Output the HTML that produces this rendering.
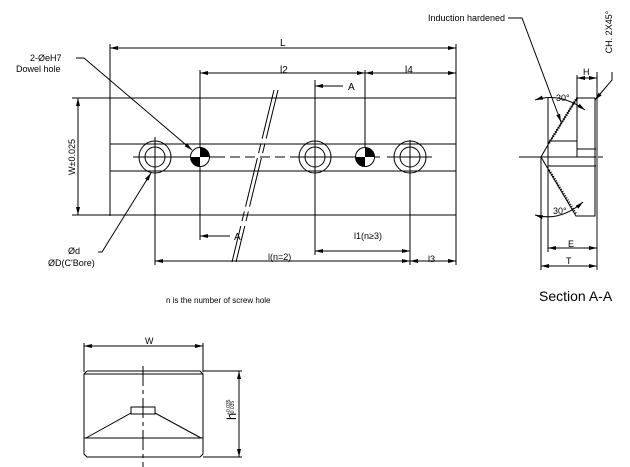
<!DOCTYPE html>
<html><head><style>
html,body{margin:0;padding:0;background:#fff;}
svg{display:block;}
text{font-family:"Liberation Sans",sans-serif;fill:#000;}
</style></head><body>
<svg width="630" height="467" viewBox="0 0 630 467" xmlns="http://www.w3.org/2000/svg">
<defs>
<marker id="a" markerWidth="8" markerHeight="6" refX="8" refY="3" orient="auto-start-reverse" markerUnits="userSpaceOnUse"><path d="M0,1 L8,3 L0,5z" fill="#000"/></marker>
</defs>
<g stroke="#000" stroke-width="1" fill="none">
<line x1="72" y1="98" x2="456" y2="98"/>
<line x1="72" y1="215" x2="456" y2="215"/>
<line x1="110" y1="144" x2="456" y2="144"/>
<line x1="110" y1="171" x2="456" y2="171"/>
<line x1="110" y1="44" x2="110" y2="216"/>
<line x1="456" y1="44" x2="456" y2="265"/>
<line x1="110" y1="48" x2="456" y2="48" marker-start="url(#a)" marker-end="url(#a)"/>
<line x1="200" y1="73" x2="365" y2="73" marker-start="url(#a)" marker-end="url(#a)"/>
<line x1="365" y1="73" x2="456" y2="73" marker-start="url(#a)" marker-end="url(#a)"/>
<line x1="200" y1="70" x2="200" y2="240"/>
<line x1="365" y1="70" x2="365" y2="160"/>
<line x1="315" y1="80" x2="315" y2="255"/>
<line x1="343" y1="86" x2="315" y2="86" marker-end="url(#a)"/>
<line x1="230" y1="236" x2="200" y2="236" marker-end="url(#a)"/>
<line x1="78" y1="98" x2="78" y2="215" marker-start="url(#a)" marker-end="url(#a)"/>
<line x1="155" y1="140" x2="155" y2="265"/>
<line x1="410" y1="140" x2="410" y2="265"/>
<line x1="315" y1="251" x2="410" y2="251" marker-start="url(#a)" marker-end="url(#a)"/>
<line x1="155" y1="261" x2="410" y2="261" marker-start="url(#a)" marker-end="url(#a)"/>
<line x1="410" y1="261" x2="456" y2="261" marker-start="url(#a)" marker-end="url(#a)"/>
<line x1="133" y1="157" x2="215" y2="157"/>
<line x1="215" y1="157" x2="300" y2="157" stroke-dasharray="10,5"/>
<line x1="298" y1="157" x2="380" y2="157"/>
<line x1="387" y1="157" x2="432" y2="157"/>
<circle cx="155" cy="157" r="16"/><circle cx="155" cy="157" r="10"/>
<line x1="155" y1="137" x2="155" y2="177"/>
<circle cx="315" cy="157" r="16"/><circle cx="315" cy="157" r="10"/>
<circle cx="410" cy="157" r="16"/><circle cx="410" cy="157" r="10"/>
<circle cx="200" cy="157" r="9.5" fill="#fff"/>
<circle cx="365" cy="157" r="9.5" fill="#fff"/>
</g>
<path d="M200,157 L200,147.5 A9.5,9.5 0 0 1 209.5,157z M200,157 L200,166.5 A9.5,9.5 0 0 1 190.5,157z" fill="#000"/>
<path d="M365,157 L365,147.5 A9.5,9.5 0 0 1 374.5,157z M365,157 L365,166.5 A9.5,9.5 0 0 1 355.5,157z" fill="#000"/>
<g stroke="#000" stroke-width="1" fill="none">
<line x1="274" y1="90" x2="232" y2="262" stroke-dasharray="50,5,10,5"/>
<line x1="278" y1="90" x2="236" y2="262" stroke-dasharray="50,5,10,5"/>
<polyline points="76,58 84,58 192,150" marker-end="url(#a)"/>
<polyline points="98,252 102,252 151,173" marker-end="url(#a)"/>
</g>
<g font-size="9">
<text x="280" y="46" font-size="10">L</text>
<text x="280" y="73" font-size="10">l2</text>
<text x="405" y="73" font-size="10">l4</text>
<text x="348" y="90" font-size="10">A</text>
<text x="234" y="240" font-size="10">A</text>
<text x="354" y="239">l1(n≥3)</text>
<text x="268" y="260">l(n=2)</text>
<text x="428" y="262">l3</text>
<text x="30" y="61">2-ØeH7</text>
<text x="16" y="72">Dowel hole</text>
<text x="68" y="254">Ød</text>
<text x="48" y="266">ØD(C'Bore)</text>
<text x="75" y="157" transform="rotate(-90 75 157)" text-anchor="middle">W±0.025</text>
<text x="166" y="303" font-size="8">n is the number of screw hole</text>
<text x="428" y="21">Induction hardened</text>
<text x="612" y="32" transform="rotate(-90 612 32)" text-anchor="middle">CH. 2X45°</text>
<text x="583" y="75">H</text>
<text x="568" y="247">E</text>
<text x="566" y="264">T</text>
<text x="556" y="101">30°</text>
<text x="553" y="214">30°</text>
<text x="539" y="301" font-size="14">Section A-A</text>
<text x="145" y="344">W</text>
<text x="236" y="420" font-size="13" transform="rotate(-90 236 420)">h</text>
<text x="230" y="415" font-size="5" transform="rotate(-90 230 415)">+0.035</text>
<text x="234" y="415" font-size="5" transform="rotate(-90 234 415)">-0.035</text>
</g>
<g stroke="#000" stroke-width="1" fill="none">
<line x1="519" y1="157" x2="603" y2="157"/>
<polyline points="541,157 549,143 577,98 595,98 595,216 576,216 541,157"/>
<line x1="549" y1="141" x2="577" y2="141"/>
<line x1="577" y1="98" x2="577" y2="157"/>
<line x1="577" y1="149" x2="597" y2="149"/>
<line x1="548" y1="166" x2="597" y2="166"/>
<line x1="541" y1="157" x2="541" y2="270"/>
<line x1="548" y1="98" x2="548" y2="252"/>
<line x1="597" y1="98" x2="597" y2="270" stroke="#888" stroke-width="2"/>
<line x1="577" y1="75" x2="577" y2="98"/>
<line x1="597" y1="72" x2="597" y2="98"/>
<line x1="577" y1="78" x2="597" y2="78" marker-start="url(#a)" marker-end="url(#a)"/>
<line x1="548" y1="248" x2="597" y2="248" marker-start="url(#a)" marker-end="url(#a)"/>
<line x1="541" y1="266" x2="597" y2="266" marker-start="url(#a)" marker-end="url(#a)"/>
<path d="M535,100 Q560,92 585,110" marker-start="url(#a)" marker-end="url(#a)"/>
<path d="M535,215 Q560,222 583,202" marker-start="url(#a)" marker-end="url(#a)"/>
<line x1="549" y1="143" x2="577" y2="98" stroke-width="2.5" stroke-dasharray="1,1.5"/>
<line x1="549" y1="170" x2="576" y2="214" stroke-width="2.5" stroke-dasharray="1,1.5"/>
<polyline points="508,18 522,18 561,122" marker-end="url(#a)"/>
<polyline points="612,72 612,80 595,100" marker-end="url(#a)"/>
<line x1="84" y1="346" x2="203" y2="346" marker-start="url(#a)" marker-end="url(#a)"/>
<line x1="84" y1="343" x2="84" y2="372"/>
<line x1="203" y1="343" x2="203" y2="372"/>
<polyline points="87,371 200,371 203,374 203,454 200,457 87,457 84,454 84,374 87,371"/>
<line x1="84" y1="374" x2="203" y2="374"/>
<line x1="84" y1="438" x2="203" y2="438"/>
<rect x="131" y="407" width="24" height="7"/>
<line x1="131" y1="413" x2="86" y2="438"/>
<line x1="155" y1="413" x2="201" y2="438"/>
<line x1="143" y1="366" x2="143" y2="467" stroke-dasharray="20,4,4,4"/>
<line x1="203" y1="371" x2="242" y2="371"/>
<line x1="203" y1="457" x2="242" y2="457"/>
<line x1="239" y1="371" x2="239" y2="457" marker-start="url(#a)" marker-end="url(#a)"/>
</g>
</svg>
</body></html>
